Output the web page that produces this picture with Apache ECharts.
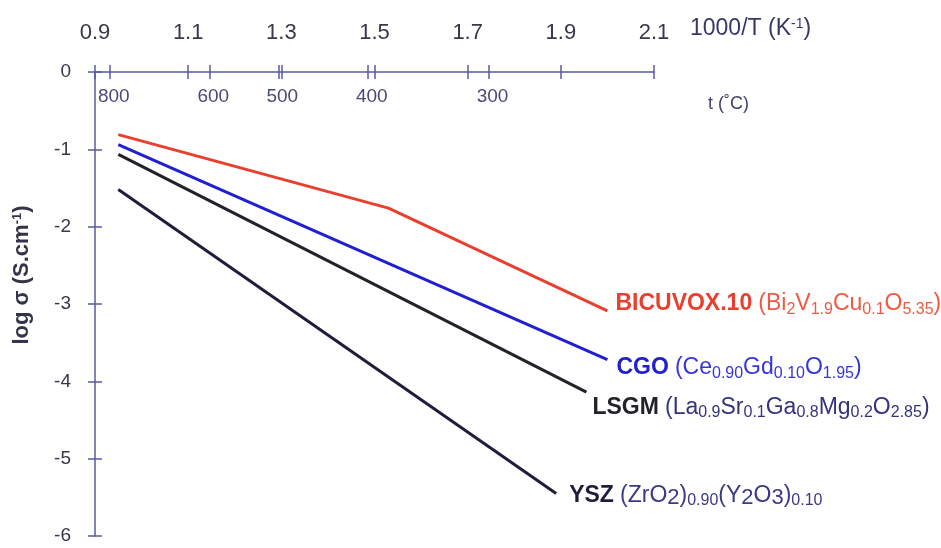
<!DOCTYPE html>
<html>
<head>
<meta charset="utf-8">
<script src="https://cdn.jsdelivr.net/npm/echarts@6/dist/echarts.min.js"></script>
<style>
  html, body { margin: 0; padding: 0; background: #fff; }
  #chart { width: 941px; height: 548px; }
</style>
</head>
<body>
<div id="chart"></div>
<script>
// top axis: 1000/T (K^-1)
var invTRange = [0.9, 2.1];
var invTStep = 0.2;
// temperature marks on the same axis (deg C)
var tempC = [800, 600, 500, 400, 300];
// log sigma axis
var logRange = [-6, 0];

// series: x = 1000/T, y = log sigma
var names = ['BICUVOX.10', 'CGO', 'LSGM', 'YSZ'];
var bicuvoxX = [0.95, 1.53, 2.0];
var bicuvoxY = [-0.81, -1.76, -3.09];
var cgoX = [0.95, 2.0];
var cgoY = [-0.94, -3.72];
var lsgmX = [0.95, 1.955];
var lsgmY = [-1.065, -4.14];
var yszX = [0.95, 1.89];
var yszY = [-1.52, -5.45];
var formulas = [
  '{f|(Bi}{s|2}{f|V}{s|1.9}{f|Cu}{s|0.1}{f|O}{s|5.35}{f|)}',
  '{f|(Ce}{s|0.90}{f|Gd}{s|0.10}{f|O}{s|1.95}{f|)}',
  '{f|(La}{s|0.9}{f|Sr}{s|0.1}{f|Ga}{s|0.8}{f|Mg}{s|0.2}{f|O}{s|2.85}{f|)}',
  '{f|(ZrO}{m|2}{f|)}{s|0.90}{f|(Y}{m|2}{f|O}{m|3}{f|)}{s|0.10}'
];

var FONT = 'Liberation Sans';
var axisColor = '#5a5aa6';
var lineColors = ['#e8402e', '#2020d0', '#222228', '#1e1e3c'];
var formulaColors = ['#ee5b45', '#3535dc', '#34347e', '#3b3b85'];
var labelOffsets = [[3, -7], [4, 8], [1, 15], [8, 2]];

var tempX = tempC.map(function (t) { return 1000 / (t + 273.15); });

function makeSeries(i, xs, ys) {
  var data = xs.map(function (x, k) { return [x, ys[k]]; });
  var last = data.length - 1;
  data[last] = {
    value: data[last],
    label: {
      show: true,
      position: 'right',
      distance: 5,
      offset: labelOffsets[i],
      fontFamily: FONT,
      fontSize: 22,
      lineHeight: 27,
      formatter: '{n|' + names[i] + '} ' + formulas[i],
      rich: {
        n: { fontFamily: FONT, fontSize: 23, fontWeight: 'bold', color: lineColors[i], lineHeight: 27 },
        f: { fontFamily: FONT, fontSize: 23, color: formulaColors[i], lineHeight: 27 },
        s: { fontFamily: FONT, fontSize: 16, color: formulaColors[i], verticalAlign: 'bottom' },
        m: { fontFamily: FONT, fontSize: 22, color: formulaColors[i], verticalAlign: 'bottom' }
      }
    }
  };
  return {
    type: 'line',
    name: names[i],
    data: data,
    symbol: 'circle',
    symbolSize: 0,
    showSymbol: true,
    silent: true,
    clip: false,
    lineStyle: { color: lineColors[i], width: 3 },
    itemStyle: { color: lineColors[i] }
  };
}

var chart = echarts.init(document.getElementById('chart'), null, { renderer: 'canvas' });

var option = {
  animation: false,
  backgroundColor: '#fff',
  textStyle: { fontFamily: FONT },
  grid: { left: 95, top: 72, right: 287, bottom: 12, containLabel: false, outerBoundsMode: 'none' },
  xAxis: [
    {
      // main 1000/T axis: line + labels
      type: 'value', position: 'top',
      min: invTRange[0], max: invTRange[1], interval: invTStep,
      axisLine: { show: true, lineStyle: { color: axisColor, width: 1.5 } },
      axisTick: { show: false },
      splitLine: { show: false },
      axisLabel: {
        margin: 28, fontSize: 22, color: '#383848', fontFamily: FONT,
        formatter: function (v) { return v.toFixed(1); }
      },
      name: '1000/T (K{sup|-1})',
      nameLocation: 'end',
      nameGap: 36,
      nameTextStyle: {
        fontFamily: FONT, fontSize: 23, color: '#383868',
        align: 'left', verticalAlign: 'bottom', padding: [0, 0, 32, 0],
        rich: { sup: { fontFamily: FONT, fontSize: 14, color: '#383868', verticalAlign: 'top' } }
      }
    },
    {
      // ticks crossing the top line
      type: 'value', position: 'top', offset: -7,
      min: invTRange[0], max: invTRange[1], interval: invTStep,
      axisLine: { show: false },
      axisTick: { show: true, length: 14, lineStyle: { color: axisColor, width: 1.5 } },
      axisLabel: { show: false },
      splitLine: { show: false }
    },
    {
      // temperature marks
      type: 'value', position: 'top', offset: -7,
      min: invTRange[0], max: invTRange[1],
      axisLine: { show: false },
      axisTick: { show: true, length: 14, customValues: tempX, lineStyle: { color: axisColor, width: 1.5 } },
      axisLabel: {
        show: true, inside: true, margin: 8, customValues: tempX,
        fontSize: 19, color: '#4a4a78', fontFamily: FONT, padding: [0, 0, 0, 8],
        formatter: function (v) { return String(Math.round(1000 / v - 273.15)); }
      },
      splitLine: { show: false },
      name: 't (˚C)',
      nameLocation: 'end',
      nameGap: 54,
      nameTextStyle: {
        fontFamily: FONT, fontSize: 18, color: '#3f3f6f',
        align: 'left', verticalAlign: 'top', padding: [16, 0, 0, 0]
      }
    }
  ],
  yAxis: [
    {
      type: 'value', position: 'left',
      min: logRange[0], max: logRange[1], interval: 1,
      axisLine: { show: true, lineStyle: { color: axisColor, width: 1.5 } },
      axisTick: { show: false },
      splitLine: { show: false },
      axisLabel: { margin: 24, fontSize: 19, color: '#383848', fontFamily: FONT },
      name: 'log σ (S.cm{sup|-1})',
      nameLocation: 'middle',
      nameRotate: 90,
      nameGap: 62,
      nameTextStyle: {
        fontFamily: FONT, fontSize: 22, fontWeight: 'bold', color: '#33334a',
        padding: [0, 0, 0, 58],
        rich: { sup: { fontFamily: FONT, fontSize: 13, fontWeight: 'bold', color: '#33334a', verticalAlign: 'top' } }
      }
    },
    {
      // ticks crossing the left line
      type: 'value', position: 'left', offset: -7,
      min: logRange[0], max: logRange[1], interval: 1,
      axisLine: { show: false },
      axisTick: { show: true, length: 14, lineStyle: { color: axisColor, width: 1.5 } },
      axisLabel: { show: false },
      splitLine: { show: false }
    }
  ],
  series: [
    makeSeries(3, yszX, yszY),
    makeSeries(2, lsgmX, lsgmY),
    makeSeries(1, cgoX, cgoY),
    makeSeries(0, bicuvoxX, bicuvoxY)
  ]
};

chart.setOption(option);
</script>
</body>
</html>
